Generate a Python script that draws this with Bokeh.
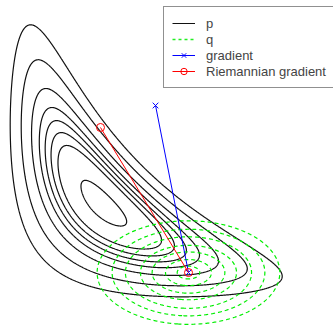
import numpy as np
from bokeh.plotting import figure
from bokeh.models import Legend, LegendItem
from bokeh.embed import file_html
from bokeh.resources import INLINE

# p(x, y) ~ exp[-a (x*y - 1)^2 - b x^2 - c y^2]
p_coef = [9.0, 1.0, 1.0]
p_levels = [0.045, 0.116, 0.228, 0.337, 0.429, 0.524, 0.634, 0.915]  # relative to max
# q: diagonal Gaussian
q_mean = [1.539, 0.473]
q_std = [0.277, 0.157]
q_levels = [0.074, 0.162, 0.289, 0.487, 0.662, 0.848, 0.961]  # relative to max
# gradient vectors from the mean of q
grad_x = [1.539, 1.311]
grad_y = [0.473, 1.629]
riem_x = [1.539, 0.930]
riem_y = [0.473, 1.477]
labels = ["p", "q", "gradient", "Riemannian gradient"]

x_lim = (0.238, 2.5426)
y_lim = (0.0997, 2.3557)

xs = np.linspace(0.15, 2.65, 600)
ys = np.linspace(0.02, 2.45, 600)
X, Y = np.meshgrid(xs, ys)
a, b, c = p_coef
Zp = np.exp(-(a * (X * Y - 1.0) ** 2 + b * X ** 2 + c * Y ** 2))
Zp = Zp / Zp.max()
Zq = np.exp(-0.5 * ((X - q_mean[0]) / q_std[0]) ** 2 - 0.5 * ((Y - q_mean[1]) / q_std[1]) ** 2)

fig = figure(width=333, height=326, x_range=x_lim, y_range=y_lim,
             output_backend="svg", toolbar_location=None, min_border=0,
             x_axis_location=None, y_axis_location=None)
fig.grid.visible = False
fig.outline_line_color = None
fig.background_fill_color = "white"

fig.contour(xs, ys, Zp, p_levels, line_color="#111111", line_width=1.2)
fig.contour(xs, ys, Zq, q_levels, line_color="#00ee00", line_width=1.2, line_dash="4 3")

g_line = fig.line(grad_x, grad_y, line_color="#0000ff", line_width=1.0)
g_mark = fig.scatter(grad_x, grad_y, marker="x", size=8, line_color="#0000ff", line_width=1.0)
r_line = fig.line(riem_x, riem_y, line_color="#ff0000", line_width=1.0)
r_mark = fig.scatter(riem_x, riem_y, marker="circle", size=8, line_color="#ff0000",
                     fill_color=None, line_width=1.0)

lp = fig.line(x=[np.nan, np.nan], y=[np.nan, np.nan], line_color="#111111", line_width=1.0)
lq = fig.line(x=[np.nan, np.nan], y=[np.nan, np.nan], line_color="#22ee22", line_width=1.4,
              line_dash="3 3")

legend = Legend(items=[
    LegendItem(label=labels[0], renderers=[lp]),
    LegendItem(label=labels[1], renderers=[lq]),
    LegendItem(label=labels[2], renderers=[g_line, g_mark]),
    LegendItem(label=labels[3], renderers=[r_line, r_mark]),
], location=(163, 238))
legend.padding = 8
legend.spacing = 0
legend.glyph_width = 23
legend.glyph_height = 16
legend.label_height = 16
legend.label_standoff = 11
legend.label_text_font = "Liberation Sans"
legend.label_text_font_size = "13px"
legend.border_line_color = "#222222"
legend.border_line_width = 1
legend.background_fill_color = "white"
legend.background_fill_alpha = 1.0
fig.add_layout(legend)

open("out.html", "w").write(file_html(fig, INLINE))
